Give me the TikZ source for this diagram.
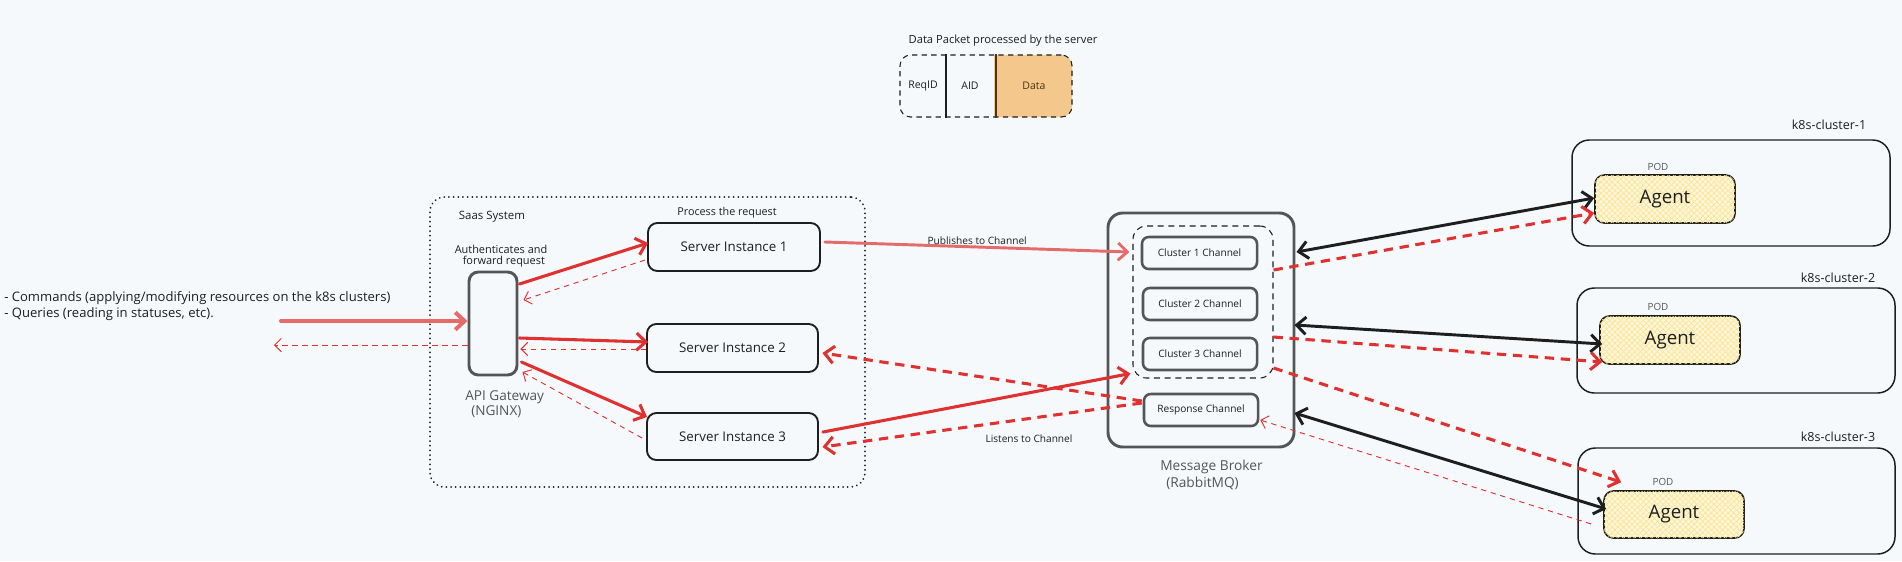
\documentclass[tikz,border=0pt]{standalone}
\usepackage{fontspec}
\setmainfont{Open Sans}
\usetikzlibrary{arrows.meta,calc,patterns.meta}
\definecolor{bg}{HTML}{F5F9FC}
\definecolor{ink}{HTML}{1E1E1E}
\definecolor{gray5}{HTML}{555555}
\definecolor{redc}{HTML}{E03131}
\definecolor{lightred}{HTML}{E56B6B}
\definecolor{datafill}{HTML}{F4C78C}
\definecolor{dataline}{HTML}{4A3510}
\definecolor{agentbg}{HTML}{FBF6E0}
\definecolor{hatch}{HTML}{FBE58A}
\begin{document}
\begin{tikzpicture}[x=0.75pt,y=-0.75pt,
  wh/.style 2 args={minimum width=#1*0.75pt,minimum height=#2*0.75pt},
  fs/.style={font=\fontsize{#1}{#1}\selectfont},
  lbl/.style={inner sep=0pt,text=ink},
  server/.style={draw=ink,line width=1.4pt,rounded corners=7pt,inner sep=0pt,text=ink,fs=10},
  gate/.style={draw=gray5,line width=2.2pt,rounded corners=7pt,inner sep=0pt},
  broker/.style={draw=gray5,line width=2.2pt,rounded corners=11pt,inner sep=0pt},
  chgrp/.style={draw=ink,line width=0.8pt,dash pattern=on 4.5pt off 3.5pt,rounded corners=10pt,inner sep=0pt},
  chan/.style={draw=gray5,line width=1.9pt,rounded corners=5pt,inner sep=0pt,text=ink,fs=7.6},
  cluster/.style={draw=ink,line width=1.1pt,rounded corners=13pt,inner sep=0pt},
  agent/.style={draw=ink,line width=1.2pt,rounded corners=7pt,inner sep=0pt,fill=agentbg,
    postaction={pattern={Lines[angle=45,distance=3pt,line width=0.5pt]},pattern color=hatch},
    postaction={pattern={Lines[angle=-45,distance=3pt,line width=0.5pt]},pattern color=hatch},
    text=ink,fs=14},
  saasbox/.style={draw=ink,dash pattern=on 0.1pt off 3.4pt,line width=1.4pt,line cap=round,rounded corners=11pt,inner sep=0pt},
  packetbox/.style={draw=ink,dash pattern=on 4pt off 3.2pt,line width=0.8pt,rounded corners=8pt,inner sep=0pt},
  rsolid/.style={draw=redc,line width=2.3pt,line cap=round,line join=round,-{Straight Barb[length=7pt,width=13pt]}},
  rdash/.style={draw=redc,line width=2.3pt,dash pattern=on 7pt off 5pt,line join=round,-{Straight Barb[length=7pt,width=13pt]}},
  rthin/.style={draw=redc,line width=0.7pt,dash pattern=on 4pt off 3.5pt,-{Straight Barb[length=5pt,width=10pt]}},
  lsolid/.style={draw=lightred,line width=2.2pt,line cap=round,-{Straight Barb[length=7pt,width=13pt]}},
  bdouble/.style={draw=ink,line width=2.2pt,line cap=round,{Straight Barb[length=7pt,width=13pt]}-{Straight Barb[length=7pt,width=13pt]}},
]
\fill[bg] (0,0) rectangle (1902,561);
\useasboundingbox (0,0) rectangle (1902,561);

% ---------- data packet ----------
\node[lbl,fs=8.4] (ptitle) at (1003,41) {Data Packet processed by the server};
\fill[datafill,rounded corners=8pt] (994,55) rectangle (1072,117);
\fill[datafill] (994,55) rectangle (1012,117);
\node[packetbox,wh={172}{62}] (packet) at (986,86) {};
\draw[ink,line width=1.1pt] (packet.north -| 946,0) -- (packet.south -| 946,0);
\draw[dataline,line width=1.1pt] (packet.north -| 996,0) -- (packet.south -| 996,0);
\node[lbl,fs=7.9] (reqid) at (923,86) {ReqID};
\node[lbl,fs=7.9] (aid) at (970,86) {AID};
\node[lbl,fs=7.9,text=dataline] (datat) at (1034,86) {Data};

% ---------- left text ----------
\node[lbl,fs=9.8,anchor=west,align=left] (cmds) at (4,298) {- Commands (applying/modifying resources on the k8s clusters)};
\node[lbl,fs=9.8,anchor=west,align=left] (qrys) at (4,314) {- Queries (reading in statuses, etc).};

% ---------- saas system ----------
\node[saasbox,wh={435}{290}] (saas) at (647.5,342) {};
\node[lbl,fs=8.6] (saast) at (492,217) {Saas System};
\node[gate,wh={48}{103}] (gw) at (493,323.5) {};
\node[lbl,font=\fontsize{8.2}{8.6}\selectfont,align=center] (autht) at (501,256) {Authenticates and\\\ \ forward request};
\node[lbl,fs=10.2,text=gray5,anchor=west] (gwt1) at (465,397) {API Gateway};
\node[lbl,fs=10.2,text=gray5,anchor=west] (gwt2) at (471,412) {(NGINX)};
\node[lbl,fs=8.1] (proct) at (727,213) {Process the request};
\node[server,wh={172}{48}] (si1) at (734,247) {Server Instance 1};
\node[server,wh={171}{48}] (si2) at (732.5,348) {Server Instance 2};
\node[server,wh={171}{47}] (si3) at (732.5,436.5) {Server Instance 3};

% ---------- message broker ----------
\node[broker,wh={186}{234}] (broker) at (1201,330) {};
\node[chgrp,wh={140}{152}] (chgroup) at (1203,302) {};
\node[chan,wh={115}{32}] (c1) at (1199.5,253) {Cluster 1 Channel};
\node[chan,wh={114}{32}] (c2) at (1200,304) {Cluster 2 Channel};
\node[chan,wh={114}{32}] (c3) at (1200,354) {Cluster 3 Channel};
\node[chan,wh={114}{32}] (resp) at (1201,410) {Response Channel};
\node[lbl,fs=10.3,text=gray5,anchor=west] (mbt1) at (1160,467) {Message Broker};
\node[lbl,fs=10.3,text=gray5,anchor=west] (mbt2) at (1166,483) {(RabbitMQ)};

% ---------- clusters ----------
\node[cluster,wh={318}{106}] (k1) at (1731,193) {};
\node[lbl,fs=9.4] (k1t) at (1829,125) {k8s-cluster-1};
\node[lbl,fs=7.4,text=gray5] (pod1) at (1658,167) {POD};
\node[agent,wh={140}{48}] (a1) at (1665,199) {Agent};

\node[cluster,wh={318}{105}] (k2) at (1736,340.5) {};
\node[lbl,fs=9.4] (k2t) at (1838,278) {k8s-cluster-2};
\node[lbl,fs=7.4,text=gray5] (pod2) at (1658,307) {POD};
\node[agent,wh={140}{48}] (a2) at (1670,340) {Agent};

\node[cluster,wh={317}{106}] (k3) at (1736.5,501) {};
\node[lbl,fs=9.4] (k3t) at (1838,437) {k8s-cluster-3};
\node[lbl,fs=7.4,text=gray5] (pod3) at (1663,482) {POD};
\node[agent,wh={140}{47}] (a3) at (1674,514.5) {Agent};

% ---------- connectors: client <-> gateway ----------
\coordinate (inS) at (281,321);
\coordinate (outE) at (274,345);
\draw[lsolid,line width=3pt] (inS) -- (inS -| gw.west);
\draw[rthin] (gw.west |- outE) -- (outE);

% ---------- gateway <-> servers ----------
\draw[rsolid] ($(gw.east)+(1,-39.5)$) -- ($(si1.west)+(1,-4)$);
\draw[rthin] ($(si1.west)+(-2,13)$) -- ($(gw.east)+(5,-23.5)$);
\draw[rsolid] ($(gw.east)+(1,14.5)$) -- ($(si2.west)+(2,-6)$);
\draw[rthin] ($(si2.west)+(0,1)$) -- ($(gw.east)+(2,25.5)$);
\draw[rsolid] ($(gw.east)+(3,38.5)$) -- ($(si3.west)+(1,-19.5)$);
\draw[rthin] ($(si3.west)+(-4,1.5)$) -- ($(gw.east)+(4,48.5)$);

% ---------- servers <-> broker ----------
\draw[lsolid] ($(si1.east)+(4,-5)$) -- node[lbl,fs=7.6,above=1pt,pos=0.5] (pubt) {Publishes to Channel} ($(chgroup.west)+(-3,-50)$);
\draw[rsolid] ($(si3.east)+(4,-4.5)$) -- ($(chgroup.south west)+(-2,-5)$);
\draw[rdash] ($(resp.west)+(-1,-9)$) -- ($(si2.east)+(3.5,5)$);
\draw[rdash] ($(resp.west)+(-1,-7)$) -- ($(si3.east)+(3.5,10.5)$);
\node[lbl,fs=7.6] (listt) at (1029,439) {Listens to Channel};

% ---------- broker <-> agents ----------
\draw[bdouble] ($(broker.east)+(1,-78)$) -- ($(a1.west)+(0,-1)$);
\draw[rdash] ($(chgroup.east)+(0,-32)$) -- ($(a1.west)+(0,14)$);
\draw[bdouble] ($(broker.east)+(-1,-5)$) -- ($(a2.west)+(3,4)$);
\draw[rdash] ($(chgroup.east)+(0,35)$) -- ($(a2.west)+(3,22)$);
\draw[rdash] ($(chgroup.east)+(0,66)$) -- ($(a3.north west)+(18,-8)$);
\draw[bdouble] ($(broker.east)+(-1,83)$) -- ($(a3.west)+(3,-5.5)$);
\draw[rthin] ($(a3.west)+(-12,9.5)$) -- ($(resp.east)+(1,10)$);
\end{tikzpicture}
\end{document}
